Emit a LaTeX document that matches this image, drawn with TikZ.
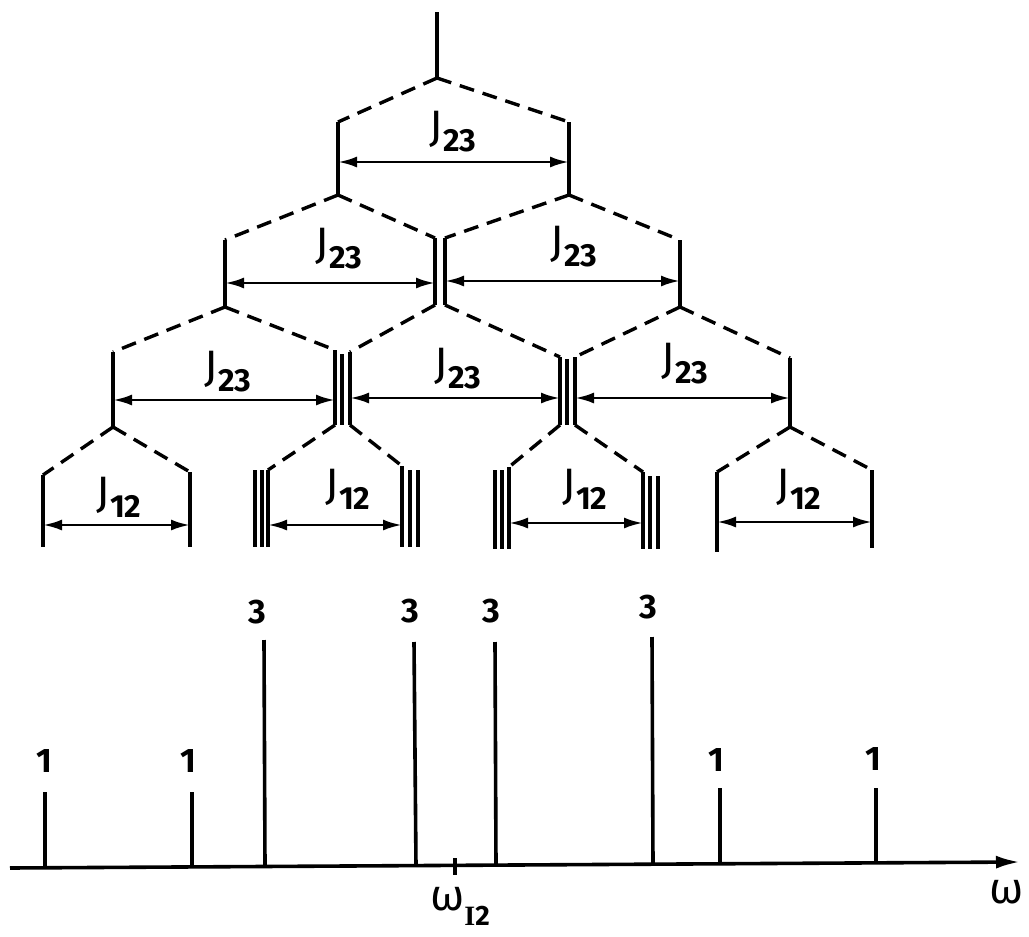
\documentclass[tikz,border=0pt]{standalone}
\usepackage{fontspec}
\setmainfont{Fira Sans}
\newfontfamily\serifI{Liberation Serif}
\usetikzlibrary{arrows.meta}
\newcommand\Jlab[1]{J\raisebox{-10pt}{\fontsize{32}{32}\selectfont\bfseries #1}}
\begin{document}
\begin{tikzpicture}[x=1pt,y=-1pt,
  solidln/.style={line width=3.6pt},
  dashln/.style={line width=3.4pt, dash pattern=on 15pt off 9pt},
  coupling/.style={line width=2.8pt, {Latex[length=19pt,width=11pt]}-{Latex[length=19pt,width=11pt]}},
  jlabel/.style={font=\fontsize{44}{44}\selectfont, inner sep=0pt},
  numlabel/.style={font=\fontsize{34}{34}\selectfont\bfseries, inner sep=0pt},
  stick/.style={line width=3.6pt},
  axisln/.style={line width=3.6pt, -{Latex[length=24pt,width=13pt]}}
]
\useasboundingbox (0,0) rectangle (1029,937);

% ---------- level 0 ----------
\coordinate (top) at (437,12);
\coordinate (b0) at (437,78);
\draw[solidln] (top) -- (b0);

% ---------- level 1 ----------
\coordinate (c1l) at (338,122); \coordinate (c1r) at (569,122);
\coordinate (b1l) at (338,195); \coordinate (b1r) at (569,195);
\draw[dashln] (b0) -- (c1l);
\draw[dashln] (b0) -- (c1r);
\draw[solidln] (c1l) -- (b1l);
\draw[solidln] (c1r) -- (b1r);
\coordinate (a1l) at (338,162); \coordinate (a1r) at (569,162);
\draw[coupling] (a1l) -- (a1r);
\node[jlabel] (J1) at (453,132) {\Jlab{23}};

% ---------- level 2 ----------
\coordinate (c2a) at (225,240); \coordinate (c2b) at (435,238);
\coordinate (c2c) at (445,238); \coordinate (c2d) at (680,240);
\draw[dashln] (b1l) -- (c2a);
\draw[dashln] (b1l) -- (c2b);
\draw[dashln] (b1r) -- (c2c);
\draw[dashln] (b1r) -- (c2d);
\coordinate (b2l) at (225,307);
\coordinate (b2ml) at (435,305); \coordinate (b2mr) at (445,305);
\coordinate (b2r) at (680,307);
\draw[solidln] (c2a) -- (b2l);
\draw[solidln] (c2b) -- (b2ml);
\draw[solidln] (c2c) -- (b2mr);
\draw[solidln] (c2d) -- (b2r);
\coordinate (a2a) at (225,283); \coordinate (a2b) at (435,283);
\coordinate (a2c) at (445,281); \coordinate (a2d) at (680,281);
\draw[coupling] (a2a) -- (a2b);
\draw[coupling] (a2c) -- (a2d);
\node[jlabel] (J2a) at (339,249) {\Jlab{23}};
\node[jlabel] (J2b) at (574,247) {\Jlab{23}};

% ---------- level 3 ----------
\coordinate (c3a) at (113,352); \coordinate (c3b) at (335,350);
\coordinate (c3c) at (350,352); \coordinate (c3d) at (560,357);
\coordinate (c3e) at (575,357); \coordinate (c3f) at (790,358);
\draw[dashln] (b2l) -- (c3a);
\draw[dashln] (b2l) -- (c3b);
\draw[dashln] (b2ml) -- (c3c);
\draw[dashln] (b2mr) -- (c3d);
\draw[dashln] (b2r) -- (c3e);
\draw[dashln] (b2r) -- (c3f);
\coordinate (b3a) at (113,427);
\coordinate (t3a1) at (335,425); \coordinate (t3a2) at (342,425); \coordinate (t3a3) at (350,425);
\coordinate (m3a) at (342,354);
\coordinate (t3b1) at (560,425); \coordinate (t3b2) at (567,425); \coordinate (t3b3) at (575,425);
\coordinate (m3b) at (567,359);
\coordinate (b3d) at (790,427);
\draw[solidln] (c3a) -- (b3a);
\draw[solidln] (c3b) -- (t3a1);
\draw[solidln] (m3a) -- (t3a2);
\draw[solidln] (c3c) -- (t3a3);
\draw[solidln] (c3d) -- (t3b1);
\draw[solidln] (m3b) -- (t3b2);
\draw[solidln] (c3e) -- (t3b3);
\draw[solidln] (c3f) -- (b3d);
\coordinate (a3a) at (113,400); \coordinate (a3b) at (335,400);
\coordinate (a3c) at (350,398); \coordinate (a3d) at (560,398);
\coordinate (a3e) at (575,398); \coordinate (a3f) at (790,398);
\draw[coupling] (a3a) -- (a3b);
\draw[coupling] (a3c) -- (a3d);
\draw[coupling] (a3e) -- (a3f);
\node[jlabel] (J3a) at (228,372) {\Jlab{23}};
\node[jlabel] (J3b) at (458,369) {\Jlab{23}};
\node[jlabel] (J3c) at (685,364) {\Jlab{23}};

% ---------- level 4 ----------
% group 1
\coordinate (c4a) at (43,475); \coordinate (c4b) at (190,472);
\coordinate (e4a) at (43,547); \coordinate (e4b) at (190,547);
\draw[dashln] (b3a) -- (c4a);
\draw[dashln] (b3a) -- (c4b);
\draw[solidln] (c4a) -- (e4a);
\draw[solidln] (c4b) -- (e4b);
\coordinate (a4a) at (43,525); \coordinate (a4b) at (190,525);
\draw[coupling] (a4a) -- (a4b);
\node[jlabel] (J4a) at (119,497) {\Jlab{12}};
% group 2
\coordinate (c4c) at (268,470); \coordinate (c4d) at (402,466);
\draw[dashln] (t3a1) -- (c4c);
\draw[dashln] (t3a3) -- (c4d);
\coordinate (s1t) at (255,470); \coordinate (s1b) at (255,547);
\coordinate (s2t) at (262,470); \coordinate (s2b) at (262,547);
\coordinate (e4c) at (268,547);
\coordinate (e4d) at (402,547);
\coordinate (s3t) at (410,470); \coordinate (s3b) at (410,547);
\coordinate (s4t) at (418,470); \coordinate (s4b) at (418,547);
\draw[solidln] (s1t) -- (s1b);
\draw[solidln] (s2t) -- (s2b);
\draw[solidln] (c4c) -- (e4c);
\draw[solidln] (c4d) -- (e4d);
\draw[solidln] (s3t) -- (s3b);
\draw[solidln] (s4t) -- (s4b);
\coordinate (a4c) at (268,525); \coordinate (a4d) at (402,525);
\draw[coupling] (a4c) -- (a4d);
\node[jlabel] (J4b) at (348,489) {\Jlab{12}};
% group 3
\coordinate (c4e) at (509,467); \coordinate (c4f) at (643,472);
\draw[dashln] (t3b1) -- (c4e);
\draw[dashln] (t3b3) -- (c4f);
\coordinate (s5t) at (495,470); \coordinate (s5b) at (495,549);
\coordinate (s6t) at (502,470); \coordinate (s6b) at (502,549);
\coordinate (e4e) at (509,549);
\coordinate (e4f) at (643,549);
\coordinate (s7t) at (650,476); \coordinate (s7b) at (650,549);
\coordinate (s8t) at (658,476); \coordinate (s8b) at (658,549);
\draw[solidln] (s5t) -- (s5b);
\draw[solidln] (s6t) -- (s6b);
\draw[solidln] (c4e) -- (e4e);
\draw[solidln] (c4f) -- (e4f);
\draw[solidln] (s7t) -- (s7b);
\draw[solidln] (s8t) -- (s8b);
\coordinate (a4e) at (509,523); \coordinate (a4f) at (643,523);
\draw[coupling] (a4e) -- (a4f);
\node[jlabel] (J4c) at (585,489) {\Jlab{12}};
% group 4
\coordinate (c4g) at (717,472); \coordinate (c4h) at (872,470);
\coordinate (e4g) at (717,552); \coordinate (e4h) at (872,548);
\draw[dashln] (b3d) -- (c4g);
\draw[dashln] (b3d) -- (c4h);
\draw[solidln] (c4g) -- (e4g);
\draw[solidln] (c4h) -- (e4h);
\coordinate (a4g) at (717,522); \coordinate (a4h) at (872,522);
\draw[coupling] (a4g) -- (a4h);
\node[jlabel] (J4d) at (799,489) {\Jlab{12}};

% ---------- spectrum ----------
\coordinate (ax0) at (10,868);
\coordinate (ax1) at (1020,862);
\draw[axisln] (ax0) -- (ax1);

\coordinate (p1b) at (45,868);  \coordinate (p1t) at (45,792);
\coordinate (p2b) at (192,867); \coordinate (p2t) at (192,792);
\coordinate (p3b) at (265,866); \coordinate (p3t) at (264,640);
\coordinate (p4b) at (416,866); \coordinate (p4t) at (414,642);
\coordinate (p5b) at (496,865); \coordinate (p5t) at (495,642);
\coordinate (p6b) at (653,864); \coordinate (p6t) at (652,637);
\coordinate (p7b) at (720,864); \coordinate (p7t) at (720,788);
\coordinate (p8b) at (876,863); \coordinate (p8t) at (876,788);
\draw[stick] (p1b) -- (p1t);
\draw[stick] (p2b) -- (p2t);
\draw[stick] (p3b) -- (p3t);
\draw[stick] (p4b) -- (p4t);
\draw[stick] (p5b) -- (p5t);
\draw[stick] (p6b) -- (p6t);
\draw[stick] (p7b) -- (p7t);
\draw[stick] (p8b) -- (p8t);

\node[numlabel] (n1) at (44,761) {1};
\node[numlabel] (n2) at (188,761) {1};
\node[numlabel] (n3) at (257,612) {3};
\node[numlabel] (n4) at (410,611) {3};
\node[numlabel] (n5) at (491,611) {3};
\node[numlabel] (n6) at (648,607) {3};
\node[numlabel] (n7) at (716,760) {1};
\node[numlabel] (n8) at (873,759) {1};

\coordinate (tk0) at (455,858);
\coordinate (tk1) at (455,875);
\draw[stick] (tk0) -- (tk1);
\node[font=\fontsize{44}{44}\selectfont, inner sep=0pt, anchor=base west] (wI) at (430,910)
  {ω\raisebox{-15pt}{\fontsize{28}{28}\selectfont\bfseries{\serifI I}2}};
\node[font=\fontsize{44}{44}\selectfont, inner sep=0pt, anchor=base west] (w) at (989,903) {ω};
\end{tikzpicture}
\end{document}
